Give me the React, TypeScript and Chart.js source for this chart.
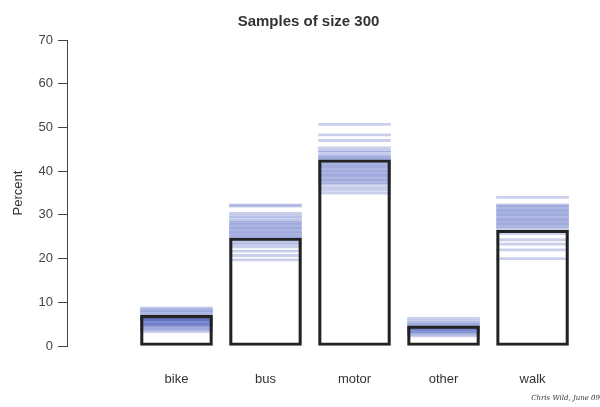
import React, { useEffect, useRef } from "react";
import { Chart, registerables } from "chart.js";

Chart.register(...registerables);

const categories = ["bike", "bus", "motor", "other", "walk"];
const observed = [7.0, 24.7, 42.6, 4.6, 26.5];

const bikeSamples = [8.7, 8.3, 8.0, 7.7, 7.3, 7.0, 6.7, 6.7, 6.3, 6.3, 6.0, 6.0, 6.0, 5.7, 5.7, 5.3, 5.3, 5.0, 5.0, 4.7, 4.7, 4.3, 4.0, 3.7, 3.3];
const busSamples = [32.3, 32.0, 30.3, 29.7, 29.3, 28.7, 28.3, 28.0, 27.7, 27.3, 27.0, 26.7, 26.3, 26.0, 25.7, 25.3, 25.0, 24.7, 24.3, 23.7, 23.3, 22.7, 21.7, 20.7, 19.7];
const motorSamples = [50.7, 48.3, 47.0, 45.3, 44.7, 44.3, 43.7, 43.3, 43.0, 42.7, 42.3, 42.0, 41.7, 41.3, 41.0, 40.7, 40.3, 40.0, 39.7, 39.3, 39.0, 38.7, 38.3, 38.0, 37.7, 37.3, 37.0, 36.3, 35.7, 35.0];
const otherSamples = [6.3, 5.7, 5.3, 5.0, 4.7, 4.3, 4.3, 4.0, 4.0, 3.7, 3.7, 3.3, 3.3, 3.0, 2.7, 2.3];
const walkSamples = [34.0, 32.3, 32.0, 31.7, 31.3, 31.0, 30.7, 30.3, 30.0, 29.7, 29.3, 29.0, 28.7, 28.3, 28.0, 27.7, 27.3, 27.0, 26.3, 25.7, 24.3, 23.3, 22.0, 20.0];

const samplesByCategory = [bikeSamples, busSamples, motorSamples, otherSamples, walkSamples];
const yTicks = [0, 10, 20, 30, 40, 50, 60, 70];

const FONT = "'Liberation Sans', Arial, Helvetica, sans-serif";
const LINE_HALF = 0.25;

export default function App() {
  const ref = useRef<HTMLCanvasElement | null>(null);

  useEffect(() => {
    document.body.style.margin = "0";
    const canvas = ref.current;
    if (!canvas) return;

    const sampleData: { x: number; y: [number, number] }[] = [];
    samplesByCategory.forEach((arr, i) => {
      arr.forEach((v) => sampleData.push({ x: i + 1, y: [v - LINE_HALF, v + LINE_HALF] }));
    });
    const observedData = observed.map((v, i) => ({ x: i + 1, y: v }));

    const chart = new Chart(canvas, {
      type: "bar",
      data: {
        datasets: [
          {
            label: "samples",
            data: sampleData as any,
            backgroundColor: "rgba(60, 80, 185, 0.27)",
            borderWidth: 0,
            barThickness: 72,
            grouped: false,
            order: 1,
          } as any,
          {
            label: "observed",
            data: observedData as any,
            backgroundColor: "rgba(0,0,0,0)",
            borderColor: "#222222",
            borderWidth: 2.5,
            borderSkipped: false,
            barThickness: 72,
            grouped: false,
            order: 0,
          } as any,
        ],
      },
      options: {
        responsive: false,
        animation: false,
        events: [],
        layout: { padding: { left: 17, right: 0, top: 0, bottom: 0 } },
        plugins: {
          legend: { display: false },
          tooltip: { enabled: false },
          title: {
            display: true,
            text: "Samples of size 300",
            color: "#333333",
            font: { family: FONT, size: 15, weight: "bold" },
            padding: { top: 13, bottom: 9 },
          },
          subtitle: {
            display: true,
            text: "Chris Wild, June 09",
            position: "bottom",
            align: "end",
            color: "#333333",
            font: { family: "'DejaVu Serif', 'Liberation Serif', serif", size: 7, style: "italic" },
            padding: { top: 0, bottom: 5 },
          },
        },
        scales: {
          x: {
            type: "linear",
            min: -0.23,
            max: 5.758,
            offset: false,
            afterBuildTicks: (scale: any) => {
              scale.ticks = categories.map((_, i) => ({ value: i + 1 }));
            },
            afterFit: (scale: any) => {
              scale.height = 47.6;
            },
            grid: { display: false, drawTicks: false },
            border: { display: false },
            ticks: {
              autoSkip: false,
              maxRotation: 0,
              padding: 26,
              color: "#333333",
              font: { family: FONT, size: 13 },
              callback: (_v: any, index: number) => categories[index],
            },
          },
          y: {
            type: "linear",
            min: 0,
            max: 70,
            afterBuildTicks: (scale: any) => {
              scale.ticks = yTicks.map((v) => ({ value: v }));
            },
            afterFit: (scale: any) => {
              scale.width = 50;
            },
            grid: {
              drawOnChartArea: false,
              drawTicks: true,
              tickLength: 9,
              color: "#444444",
              lineWidth: 1,
            },
            border: { display: true, color: "#444444", width: 1 },
            ticks: {
              padding: 5,
              color: "#444444",
              font: { family: FONT, size: 13 },
            },
            title: {
              display: true,
              text: "Percent",
              color: "#333333",
              font: { family: FONT, size: 13 },
              padding: { top: -6, bottom: 0 },
            },
          },
        },
      } as any,
    });

    return () => chart.destroy();
  }, []);

  return (
    <div style={{ width: 600, height: 407 }}>
      <canvas ref={ref} width={600} height={407} />
    </div>
  );
}
